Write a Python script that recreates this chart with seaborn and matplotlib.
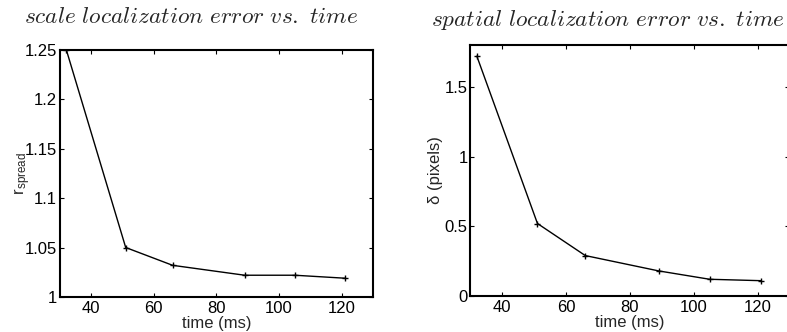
import matplotlib
matplotlib.use("Agg")
import matplotlib.pyplot as plt
import seaborn as sns
import pandas as pd

time_ms = [32, 51, 66, 89, 105, 121]
r_spread = [1.25, 1.05, 1.032, 1.022, 1.022, 1.019]
delta_px = [1.72, 0.52, 0.29, 0.18, 0.12, 0.11]
x_ticks = [40, 60, 80, 100, 120]
y_ticks_left = [1, 1.05, 1.1, 1.15, 1.2, 1.25]
y_ticklabels_left = ["1", "1.05", "1.1", "1.15", "1.2", "1.25"]
y_ticks_right = [0, 0.5, 1, 1.5]
y_ticklabels_right = ["0", "0.5", "1", "1.5"]

sns.set_style("ticks")
plt.rcParams["font.family"] = ["Liberation Sans", "DejaVu Sans"]
plt.rcParams["mathtext.fontset"] = "cm"

df1 = pd.DataFrame({"time": time_ms, "val": r_spread})
df2 = pd.DataFrame({"time": time_ms, "val": delta_px})

fig = plt.figure(figsize=(7.87, 3.32), dpi=100)
ax1 = fig.add_axes([0.0762, 0.1054, 0.3977, 0.7455])
ax2 = fig.add_axes([0.5978, 0.1084, 0.4053, 0.756])

for ax, df in [(ax1, df1), (ax2, df2)]:
    sns.lineplot(data=df, x="time", y="val", ax=ax, color="black", lw=1.0,
                 marker="+", markersize=5, markeredgewidth=1.0, markeredgecolor="black")
    ax.set_xlim(30, 130)
    ax.set_xticks(x_ticks)
    ax.set_xticklabels([str(t) for t in x_ticks])
    for s in ax.spines.values():
        s.set_visible(True)
        s.set_linewidth(1.5)
        s.set_color("black")
    ax.tick_params(axis="both", direction="in", top=True, right=True, length=3, width=0.8,
                   labelsize=12, colors="black")
    ax.tick_params(axis="x", pad=3)
    ax.tick_params(axis="y", pad=2)
    ax.set_xlabel("time (ms)", fontsize=12, labelpad=0)

ax1.set_ylim(1, 1.25)
ax1.set_yticks(y_ticks_left)
ax1.set_yticklabels(y_ticklabels_left)
ax1.set_ylabel(r"r$_{\mathregular{spread}}$", fontsize=12, labelpad=-6)

ax2.set_ylim(0, 1.8)
ax2.set_yticks(y_ticks_right)
ax2.set_yticklabels(y_ticklabels_right)
ax2.set_ylabel("δ (pixels)", fontsize=12, labelpad=1)

fig.text(0.2433, 0.949, r"$\mathit{scale\ localization\ error\ vs.\ time}$",
         ha="center", va="center", fontsize=16.8)
fig.text(0.7726, 0.94, r"$\mathit{spatial\ localization\ error\ vs.\ time}$",
         ha="center", va="center", fontsize=16.8)

fig.savefig("out.png", dpi=100)
